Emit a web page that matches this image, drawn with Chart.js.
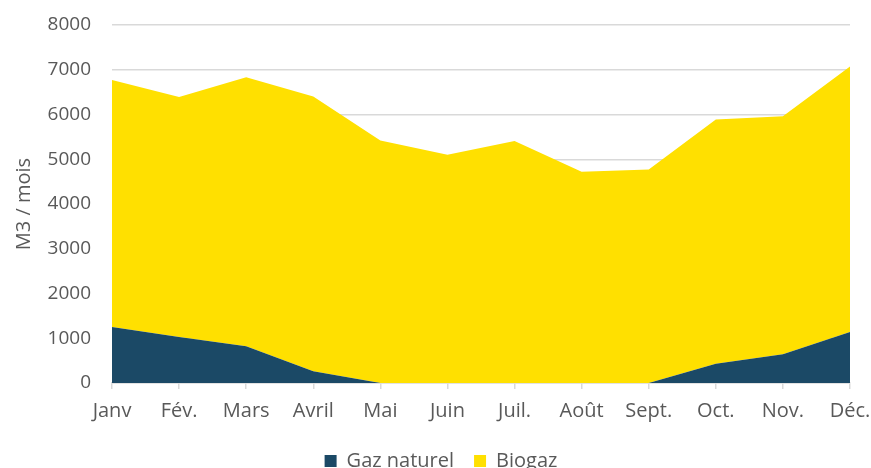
<!DOCTYPE html>
<html>
<head>
<meta charset="utf-8">
<script src="https://cdn.jsdelivr.net/npm/chart.js@4/dist/chart.umd.min.js"></script>
<style>
  html, body { margin: 0; padding: 0; background: #fff; }
  #wrap { width: 871px; height: 468px; }
</style>
</head>
<body>
<div id="wrap"><canvas id="chart" width="871" height="468"></canvas></div>
<script>
const months = ["Janv", "Fév.", "Mars", "Avril", "Mai", "Juin", "Juil.", "Août", "Sept.", "Oct.", "Nov.", "Déc."];
const gazNaturel = [1250, 1030, 820, 260, 0, 0, 0, 0, 0, 430, 640, 1140];
const biogaz = [5520, 5360, 6010, 6140, 5420, 5100, 5410, 4720, 4770, 5460, 5320, 5930];

const textColor = "#595959";
const gridColor = "#d9d9d9";
const font = "'Open Sans', 'Noto Sans', sans-serif";

const ctx = document.getElementById("chart").getContext("2d");
new Chart(ctx, {
  type: "line",
  data: {
    labels: months,
    datasets: [
      { label: "Gaz naturel", data: gazNaturel, backgroundColor: "#1b4966", borderWidth: 0, pointRadius: 0, fill: "origin" },
      { label: "Biogaz", data: biogaz, backgroundColor: "#ffe000", borderWidth: 0, pointRadius: 0, fill: "-1" }
    ]
  },
  options: {
    responsive: false,
    animation: false,
    layout: { padding: { top: 25, right: 0, left: 11, bottom: -13 } },
    plugins: {
      legend: {
        position: "bottom",
        labels: {
          color: textColor,
          font: { family: font, size: 20 },
          boxWidth: 12,
          boxHeight: 12,
          padding: 20
        }
      },
      tooltip: { enabled: false }
    },
    scales: {
      x: {
        offset: false,
        grid: { drawOnChartArea: false, drawTicks: true, tickLength: 6, color: gridColor, lineWidth: 1.5 },
        border: { display: true, color: gridColor, width: 1.5 },
        ticks: { color: textColor, font: { family: font, size: 20 }, padding: 10, maxRotation: 0 },
        afterFit: s => { s.height = 48; s.paddingLeft = 0; s.paddingRight = 21; }
      },
      y: {
        stacked: true,
        min: 0,
        max: 8000,
        grid: { color: gridColor, lineWidth: 1.5, drawTicks: false },
        border: { display: false },
        ticks: { stepSize: 1000, color: textColor, font: { family: font, size: 19 }, padding: 21, callback: v => String(v) },
        title: { display: true, text: "M3 / mois", color: textColor, font: { family: font, size: 20 }, padding: { top: 1, bottom: 0 } },
        afterFit: s => { s.width = 101; s.paddingTop = 0; s.paddingBottom = 0; }
      }
    }
  }
});
</script>
</body>
</html>
